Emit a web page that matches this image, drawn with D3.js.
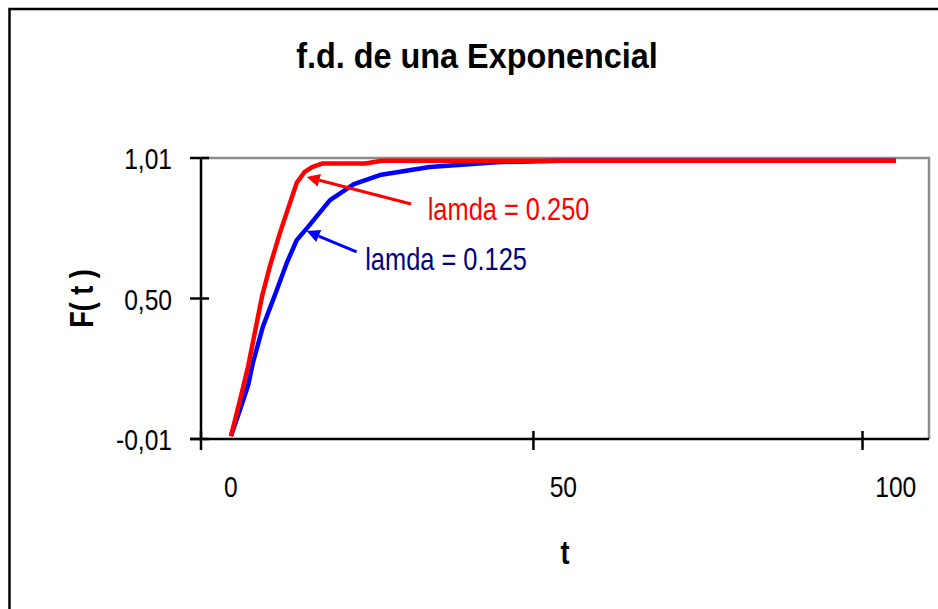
<!DOCTYPE html>
<html>
<head>
<meta charset="utf-8">
<script src="https://cdn.jsdelivr.net/npm/d3@7"></script>
<style>
html, body { margin: 0; padding: 0; background: #fff; }
svg { display: block; }
text { font-family: "Liberation Sans", Arial, sans-serif; }
</style>
</head>
<body>
<svg id="chart" width="938" height="609"></svg>
<script>
// ---- data ----
const tRed   = [0, 1.35, 2.6, 4.7, 5.9, 7.4, 9.9, 11.1, 12.2, 13.7, 20.2, 22.7, 100];
const fRed   = [0, 0.13, 0.255, 0.51, 0.62, 0.74, 0.92, 0.96, 0.977, 0.99, 0.99, 1.0, 1.0];
const tBlue  = [0, 1.35, 2.6, 3.3, 4.8, 6.9, 8.4, 9.9, 11.6, 14.9, 18.5, 22.4, 29.9, 40, 49.5, 100];
const fBlue  = [0, 0.095, 0.186, 0.266, 0.397, 0.531, 0.629, 0.712, 0.76, 0.857, 0.915, 0.948, 0.977, 0.995, 1.0, 1.0];
const seriesNames = ["lamda = 0.250", "lamda = 0.125"];
const xTickMarks = [-4.5, 45.5, 95];
const xTickLabels = [0, 50, 100];
const yTicks = [-0.01, 0.50, 1.01];
const yTickLabels = ["-0,01", "0,50", "1,01"];
const titleText = "f.d. de una Exponencial";
const xTitle = "t";
const yTitle = "F( t )";
// annotation anchors in data units: [tip t, tip F, tail t, tail F, label t, label F]
const annRed  = [11.4, 0.941, 27.1, 0.843, 29.6, 0.785];
const annBlue = [11.4, 0.745, 18.9, 0.669, 20.2, 0.605];

const svg = d3.select("#chart");
const plot = {left: 201, right: 929, top: 158, bottom: 439};
const x = d3.scaleLinear().domain([-4.5, 105]).range([plot.left, plot.right]);
const y = d3.scaleLinear().domain([-0.01, 1.01]).range([plot.bottom, plot.top]);

// condensed text helper (reference uses a narrow face)
const SX = 0.82;
function addText(px, py, str, size, opts = {}) {
  const rot = opts.rotate ? ` rotate(${opts.rotate})` : "";
  const sx = opts.sx || SX;
  return svg.append("text")
    .attr("transform", `translate(${px},${py})${rot} scale(${sx},1)`)
    .attr("text-anchor", opts.anchor || "start")
    .attr("font-size", size)
    .attr("font-weight", opts.bold ? "bold" : "normal")
    .attr("fill", opts.fill || "#000")
    .text(str);
}

// outer chart border (extends beyond the view)
svg.append("rect").attr("x", 9.5).attr("y", 9).attr("width", 1000).attr("height", 1000)
  .attr("fill", "none").attr("stroke", "#000").attr("stroke-width", 2.5);

// plot area frame (grey top and right)
svg.append("path")
  .attr("d", `M${plot.left},${plot.top}H${plot.right}V${plot.bottom}`)
  .attr("fill", "none").attr("stroke", "#8c8c8c").attr("stroke-width", 2.5);

// title
addText(477, 68, titleText, 36, {anchor: "middle", bold: true, sx: 0.9});

// lines
const line = d3.line().x(d => x(d[0])).y(d => y(d[1]));
const redData = tRed.map((t, i) => [t, fRed[i]]);
const blueData = tBlue.map((t, i) => [t, fBlue[i]]);
svg.append("path").datum(blueData).attr("d", line).attr("fill", "none")
  .attr("stroke", "#0000ff").attr("stroke-width", 4.5).attr("stroke-linejoin", "round");
svg.append("path").datum(redData).attr("d", line).attr("fill", "none")
  .attr("stroke", "#ff0000").attr("stroke-width", 4.5).attr("stroke-linejoin", "round");

// y axis
const yAxis = svg.append("g");
yAxis.append("line").attr("x1", plot.left).attr("x2", plot.left)
  .attr("y1", plot.top).attr("y2", plot.bottom).attr("stroke", "#000").attr("stroke-width", 2.5);
yTicks.forEach((v, i) => {
  yAxis.append("line").attr("x1", plot.left - 11).attr("x2", plot.left + 8)
    .attr("y1", y(v)).attr("y2", y(v)).attr("stroke", "#000").attr("stroke-width", 2.5);
  addText(plot.left - 29, y(v) + 11, yTickLabels[i], 30, {anchor: "end"});
});

// x axis
const xAxis = svg.append("g");
xAxis.append("line").attr("x1", plot.left - 11).attr("x2", plot.right)
  .attr("y1", plot.bottom).attr("y2", plot.bottom).attr("stroke", "#000").attr("stroke-width", 2.5);
xTickMarks.forEach(v => {
  xAxis.append("line").attr("x1", x(v)).attr("x2", x(v))
    .attr("y1", plot.bottom - 8).attr("y2", plot.bottom + 11).attr("stroke", "#000").attr("stroke-width", 2.5);
});
xTickLabels.forEach(v => {
  addText(x(v), 497, String(v), 30, {anchor: "middle"});
});

// axis titles
addText((plot.left + plot.right) / 2, 564, xTitle, 33, {anchor: "middle", bold: true});
addText(93, (plot.top + plot.bottom) / 2, yTitle, 33, {anchor: "middle", bold: true, rotate: -90});

// annotations
function arrow(a, color, textColor, label) {
  const x1 = x(a[0]), y1 = y(a[1]), x2 = x(a[2]), y2 = y(a[3]);
  const ang = Math.atan2(y1 - y2, x1 - x2);
  const L = 13, W = 6.5;
  const bx = x1 - L * Math.cos(ang), by = y1 - L * Math.sin(ang);
  svg.append("line").attr("x1", x2).attr("y1", y2).attr("x2", bx).attr("y2", by)
    .attr("stroke", color).attr("stroke-width", 3);
  svg.append("path")
    .attr("d", `M${x1},${y1}L${bx + W * Math.sin(ang)},${by - W * Math.cos(ang)}L${bx - W * Math.sin(ang)},${by + W * Math.cos(ang)}Z`)
    .attr("fill", color);
  addText(x(a[4]), y(a[5]), label, 31, {fill: textColor});
}
arrow(annRed, "#ff0000", "#ff0000", seriesNames[0]);
arrow(annBlue, "#0000ff", "#000080", seriesNames[1]);
</script>
</body>
</html>
